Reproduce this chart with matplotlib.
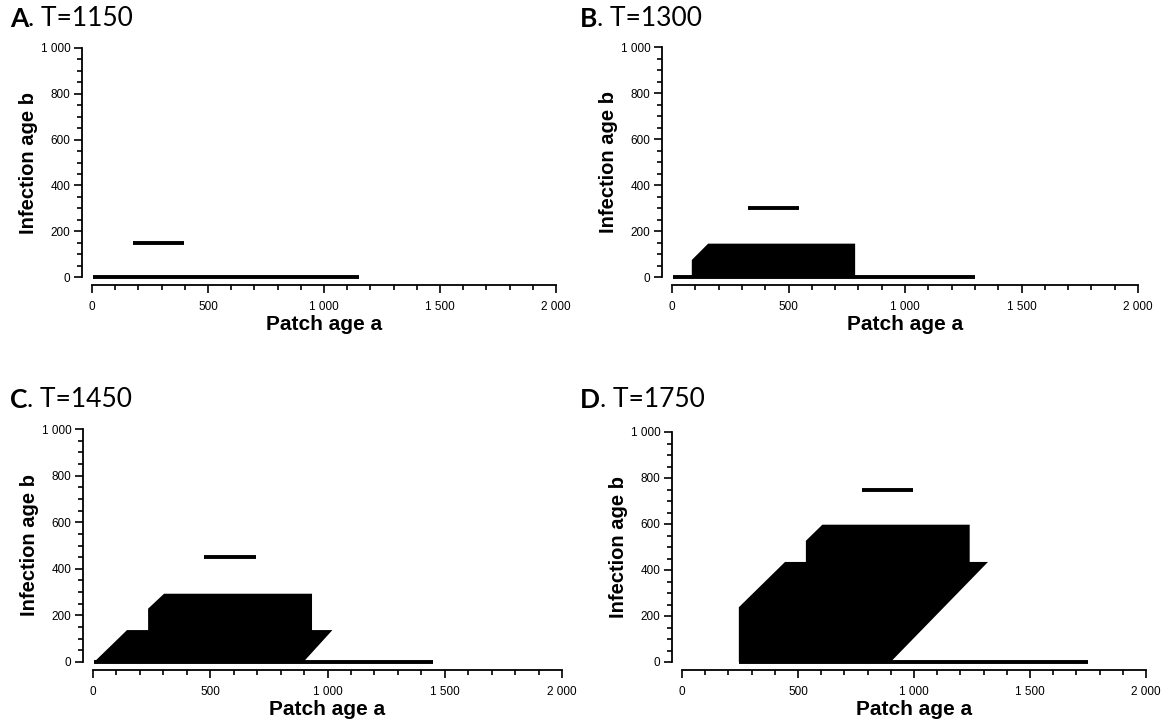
import matplotlib
matplotlib.use("Agg")
import matplotlib.pyplot as plt
from matplotlib.ticker import MultipleLocator

# Four snapshots of the infected region in the (patch age a, infection age b) plane
panel_letters = ["A", "B", "C", "D"]
panel_times = [1150, 1300, 1450, 1750]

# uninfected line b = 0, from base_start to base_end (= T)
base_start = [5, 5, 5, 245]
base_end = [1150, 1300, 1450, 1750]

# newest infection cohort, a short segment at b = T - 1000
cohort_b = [150, 300, 450, 750]
cohort_start = [175, 325, 475, 775]
cohort_end = [395, 545, 695, 995]

# outline of the filled infected region (none in A)
region_a = [
    [],
    [85, 85, 155, 786, 786],
    [5, 145, 235, 235, 303, 934, 934, 1021, 897],
    [245, 245, 444, 534, 534, 605, 1240, 1240, 1319, 899],
]
region_b = [
    [],
    [0, 74, 145, 145, 0],
    [0, 137, 137, 229, 293, 293, 137, 137, 0],
    [0, 238, 435, 435, 527, 597, 597, 435, 435, 0],
]

x_ticks = [0, 500, 1000, 1500, 2000]
x_tick_labels = ["0", "500", "1 000", "1 500", "2 000"]
y_ticks = [0, 200, 400, 600, 800, 1000]
y_tick_labels = ["0", "200", "400", "600", "800", "1 000"]

plt.rcParams["font.family"] = ["Liberation Sans", "DejaVu Sans"]

W, H = 1165, 724
fig = plt.figure(figsize=(W / 100, H / 100), dpi=100)

# pixel boxes of the data area: left (a=0), right (a=2000), top (b=1000), bottom (b=0)
axes_px = [(92, 556, 48, 277), (672, 1138, 47, 277), (93, 562, 429, 662), (682, 1146, 432, 662)]
# title anchor: left x, baseline y in pixels
title_px = [(10, 27), (580, 27), (10, 408), (580, 408)]

for i in range(4):
    l, r, t, b = axes_px[i]
    ax = fig.add_axes([l / W, 1 - b / H, (r - l) / W, (b - t) / H])
    ax.set_xlim(0, 2000)
    ax.set_ylim(0, 1000)

    if region_a[i]:
        ax.fill(region_a[i], region_b[i], color="black", lw=0, clip_on=False)
    ax.plot([base_start[i], base_end[i]], [0, 0], color="black", lw=2.8,
            solid_capstyle="butt", clip_on=False)
    ax.plot([cohort_start[i], cohort_end[i]], [cohort_b[i], cohort_b[i]], color="black",
            lw=2.8, solid_capstyle="butt", clip_on=False)

    # detached axes, like the original figure
    for side in ["top", "right"]:
        ax.spines[side].set_visible(False)
    ax.spines["left"].set_position(("outward", 7))
    ax.spines["bottom"].set_position(("outward", 6))
    ax.spines["left"].set_bounds(0, 1000)
    ax.spines["bottom"].set_bounds(0, 2000)
    for side in ["left", "bottom"]:
        ax.spines[side].set_linewidth(1.3)

    ax.set_xticks(x_ticks, x_tick_labels)
    ax.set_yticks(y_ticks, y_tick_labels)
    ax.xaxis.set_minor_locator(MultipleLocator(100))
    ax.yaxis.set_minor_locator(MultipleLocator(50))
    ax.tick_params(which="major", direction="out", length=6, width=1.2, labelsize=8.5)
    ax.tick_params(which="minor", direction="out", length=3.5, width=1.2)
    ax.tick_params(axis="x", which="major", pad=5)
    ax.tick_params(axis="y", which="major", pad=2.5)

    ax.set_xlabel("Patch age a", fontsize=15, fontweight="bold", labelpad=2)
    ax.set_ylabel("Infection age b", fontsize=14.5, fontweight="bold", labelpad=2)

    # panel title: bold letter, then regular text
    tx, ty = title_px[i]
    t1 = fig.text(tx / W, 1 - ty / H, panel_letters[i], fontsize=19, fontweight="bold",
                  family="Lato", va="baseline", ha="left")
    ax.annotate(f". T={panel_times[i]}", xy=(1, 0), xycoords=t1, va="bottom", ha="left",
                fontsize=19, family="Lato", annotation_clip=False)

fig.savefig("out.png", dpi=100)
